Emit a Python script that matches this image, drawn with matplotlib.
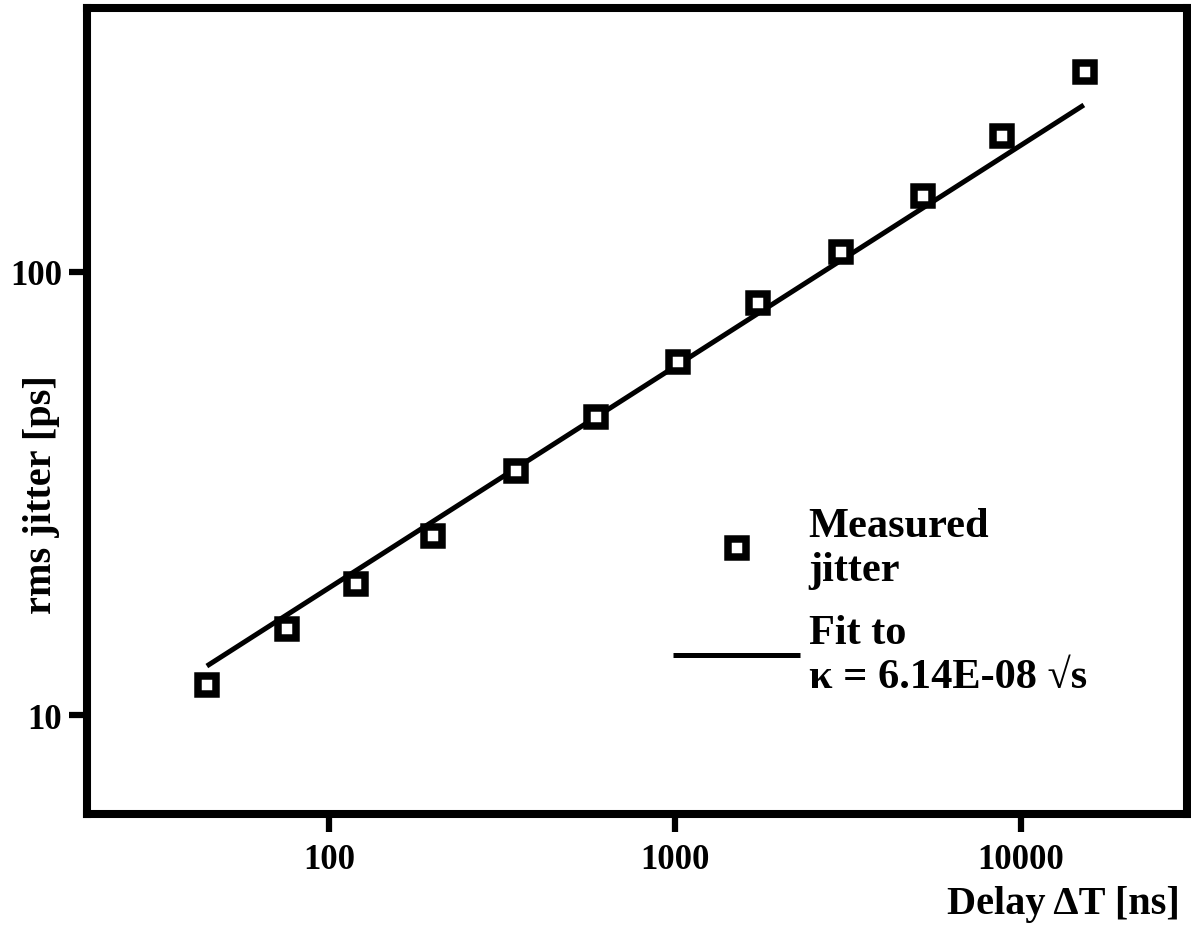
import matplotlib
matplotlib.use("Agg")
import matplotlib.pyplot as plt
from matplotlib.ticker import FixedLocator, FixedFormatter, NullLocator

# ---- data ----
delay_ns = [44.4, 75.6, 119.7, 199.8, 347, 591, 1020, 1738, 3018, 5211, 8810, 15310]
jitter_ps = [11.7, 15.6, 19.75, 25.4, 35.5, 47.1, 62.6, 84.9, 111, 148.5, 202.8, 282.8]
fit_x = [44.4, 15200]
fit_y = [12.9, 238]

x_ticks = [100, 1000, 10000]
x_tick_labels = ["100", "1000", "10000"]
y_ticks = [10, 100]
y_tick_labels = ["10", "100"]

label_measured = "Measured\njitter"
label_fit = "Fit to\n\u03ba = 6.14E-08 \u221as"
xlabel = "Delay \u0394T [ns]"
ylabel = "rms jitter [ps]"

# ---- style ----
plt.rcParams['font.family'] = ['Liberation Serif', 'DejaVu Serif']
plt.rcParams['font.weight'] = 'bold'
plt.rcParams['mathtext.default'] = 'regular'

W, H = 1191, 929
fig = plt.figure(figsize=(W / 100, H / 100), dpi=100)
left, right, top, bottom = 87, 1187, 8.5, 815
ax = fig.add_axes([left / W, 1 - bottom / H, (right - left) / W, (bottom - top) / H])

ax.set_xscale('log')
ax.set_yscale('log')
ax.set_xlim(20, 30200)
ax.set_ylim(5.98, 395)

fit_line, = ax.plot(fit_x, fit_y, color='black', lw=3.6, solid_capstyle='butt', zorder=2)
pts, = ax.plot(delay_ns, jitter_ps, linestyle='none', marker='s', markersize=13.3,
               markerfacecolor='white', markeredgecolor='black', markeredgewidth=5.4,
               zorder=3)

for s in ax.spines.values():
    s.set_linewidth(5.8)
    s.set_color('black')

ax.xaxis.set_major_locator(FixedLocator(x_ticks))
ax.xaxis.set_major_formatter(FixedFormatter(x_tick_labels))
ax.yaxis.set_major_locator(FixedLocator(y_ticks))
ax.yaxis.set_major_formatter(FixedFormatter(y_tick_labels))
ax.xaxis.set_minor_locator(NullLocator())
ax.yaxis.set_minor_locator(NullLocator())
ax.tick_params(axis='both', which='major', direction='out', length=13, width=4.5,
               labelsize=25, color='black')
ax.tick_params(axis='x', pad=8)
ax.tick_params(axis='y', pad=5)
for lab in ax.get_xticklabels() + ax.get_yticklabels():
    lab.set_fontweight('bold')

fig.text(1180 / W, 1 - 905 / H, xlabel, ha='right', va='center', fontsize=29,
         fontweight='bold')
fig.text(42 / W, 1 - 495 / H, ylabel, ha='center', va='center', rotation=90,
         fontsize=29, fontweight='bold')

leg = ax.legend([pts, fit_line], [label_measured, label_fit],
                loc='upper left', bbox_to_anchor=(673 / W, 1 - 508 / H),
                bbox_transform=fig.transFigure, frameon=False, borderpad=0,
                borderaxespad=0, handlelength=3.0, handletextpad=0.2,
                labelspacing=0.6, prop={'size': 30.5, 'weight': 'bold'},
                numpoints=1)

fig.savefig("out.png", dpi=100, facecolor='white')
